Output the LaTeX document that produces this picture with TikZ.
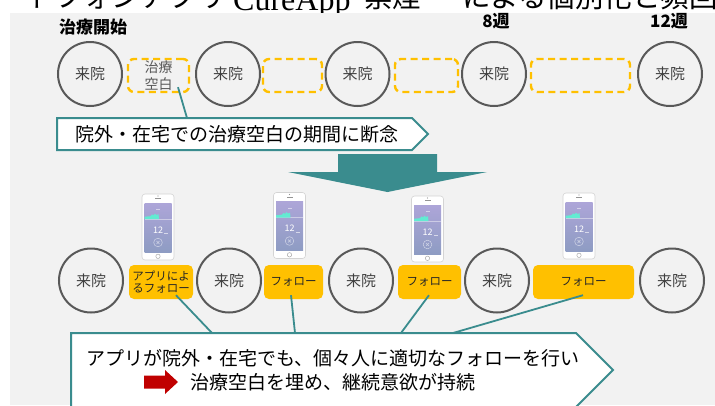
\documentclass[tikz,border=0pt]{standalone}
\usepackage{fontspec}
\setmainfont{Noto Sans CJK JP}
\newfontfamily\titleserif{Liberation Serif}
\usetikzlibrary{calc}

\definecolor{panel}{HTML}{F2F2F2}
\definecolor{tealc}{HTML}{3A8C8E}
\definecolor{amber}{HTML}{FFC000}
\definecolor{ring}{HTML}{595959}
\definecolor{labelgray}{HTML}{404040}
\definecolor{arrowred}{HTML}{C00000}
\definecolor{phoneedge}{HTML}{D4D4D4}
\definecolor{screentop}{HTML}{ADA5D8}
\definecolor{screenbot}{HTML}{8E9CC3}
\definecolor{wave}{HTML}{62EBD2}

\tikzset{
  handset/.pic={
    % body
    \fill[white, draw=phoneedge, line width=0.6pt, rounded corners=3pt] (-16,-33) rectangle (16,33);
    % speaker and camera
    \fill[phoneedge!70!black] (-3,-28.8) rectangle (3,-28);
    \fill[phoneedge!70!black] (0,-31) circle (0.6);
    % screen
    \shade[top color=screentop, bottom color=screenbot] (-13.5,-24) rectangle (13.5,25);
    \draw[white, opacity=0.45, line width=0.4pt] (-13.5,-8) -- (13.5,-8);
    \fill[wave] (-13.5,-8) -- (-13.5,-10.2) -- (-10,-10.6) -- (-7.5,-10.8) -- (-6,-12.6)
      -- (-4.5,-11.6) -- (-3,-13.4) -- (-1.5,-12) -- (0.5,-12.8) -- (1,-8) -- cycle;
    \node[white, font=\fontsize{9}{9}\selectfont, inner sep=0pt] at (0,3) {12};
    \fill[white, opacity=0.6] (6,6.2) rectangle (10,7);
    \fill[white, opacity=0.5] (-2,-18) rectangle (2,-17.4);
    \draw[white, opacity=0.55, line width=0.5pt] (0,15.5) circle (4.3);
    \draw[white, opacity=0.55, line width=0.4pt] (-1.6,13.9) -- (1.6,17.1) (-1.6,17.1) -- (1.6,13.9);
    % home button
    \draw[phoneedge!80!black, line width=0.5pt] (0,29.3) circle (2.2);
  }
}

\begin{document}
\begin{tikzpicture}[x=1pt, y=-1pt,
  visit/.style={circle, draw=ring, line width=2pt, minimum size=64pt, inner sep=0pt,
    text=labelgray, font=\fontsize{15}{15}\selectfont},
  gapbox/.style={draw=amber, line width=2.4pt, dash pattern=on 7pt off 4.5pt,
    rounded corners=6pt, minimum height=33pt, inner sep=0pt, text=ring,
    font=\fontsize{14}{17}\selectfont, align=center},
  followbox/.style={fill=amber, rounded corners=5pt, minimum height=34pt, inner sep=0pt,
    text=black!85, font=\fontsize{11.5}{12.5}\selectfont, align=center},
  link/.style={draw=tealc, line width=1.8pt},
  callout/.style={draw=tealc, line width=2pt, fill=white, line join=miter},
  weekmark/.style={font=\bfseries\fontsize{17}{17}\selectfont, inner sep=0pt},
  calltext/.style={font=\fontsize{19}{19}\selectfont, inner sep=0pt},
  headline/.style={font=\fontsize{28.5}{28.5}\selectfont, inner sep=0pt}
]
\useasboundingbox (0,0) rectangle (715,405);
\clip (0,0) rectangle (715,405);

% heading line, mostly hidden behind the panel
\node[headline, anchor=base east] (h1) at (226,7.6) {スマートフォンアプリ};
\node[headline, font=\titleserif\fontsize{32}{32}\selectfont, anchor=base west] (h2) at (233,10.5) {CureApp};
\node[headline, anchor=base west] (h3) at (364,7.6) {禁煙};
\node[headline, anchor=base west] (h4) at (462,7.6) {による個別化と頻回};

% panel
\fill[panel] (10,12.5) rectangle (715,405);

% time marks
\node[weekmark] (m0) at (93,27) {治療開始};
\node[weekmark] (m8) at (496,21) {8週};
\node[weekmark] (m12) at (669,21) {12週};

% upper row: visits with gaps in between
\node[visit] (a1) at (90,74) {来院};
\node[visit] (a2) at (228,74) {来院};
\node[visit] (a3) at (357.5,74) {来院};
\node[visit] (a4) at (494,74) {来院};
\node[visit] (a5) at (670,74) {来院};
\node[gapbox, minimum width=61pt] (g1) at (158.5,75.5) {治療\\空白};
\node[gapbox, minimum width=59pt] (g2) at (292.5,75.5) {};
\node[gapbox, minimum width=63pt] (g3) at (426.5,75.5) {};
\node[gapbox, minimum width=99pt] (g4) at (580.5,75.5) {};

% first callout
\coordinate (n1) at (187,118);
\draw[link] ($(g1.south)+(19.5,-6)$) -- (n1);
\draw[callout] (57,118) -- (412,118) -- (428,134) -- (412,150) -- (57,150) -- cycle;
\node[calltext] (t1) at (236.5,134) {院外・在宅での治療空白の期間に断念};

% transition arrow
\fill[tealc] (338,154) -- (437,154) -- (437,172) -- (487,172) -- (387.5,192)
  -- (288,172) -- (338,172) -- cycle;

% lower row: visits with app follow-up in between
\node[visit] (b1) at (91,280.5) {来院};
\node[visit] (b2) at (229,280.5) {来院};
\node[visit] (b3) at (361,280.5) {来院};
\node[visit] (b4) at (497,280.5) {来院};
\node[visit] (b5) at (672,280.5) {来院};
\node[followbox, minimum width=64pt] (f1) at (161,282) {アプリによ\\るフォロー};
\node[followbox, minimum width=59pt] (f2) at (293.5,282) {フォロー};
\node[followbox, minimum width=63pt] (f3) at (429.5,282) {フォロー};
\node[followbox, minimum width=101pt] (f4) at (583.5,282) {フォロー};

\pic at (158,227) {handset};
\pic at (289.5,225.5) {handset};
\pic at (427.5,229) {handset};
\pic at (579,226) {handset};

% second callout
\coordinate (n2) at (212,333);
\coordinate (n3) at (295,333);
\coordinate (n4) at (401,333);
\coordinate (n5) at (453,333);
\draw[link] ($(f1.south)+(15,-4)$) -- (n2);
\draw[link] ($(f2.south)+(-2.5,-4)$) -- (n3);
\draw[link] ($(f3.south)+(-0.5,-4)$) -- (n4);
\draw[link] ($(f4.south)+(-0.5,-4)$) -- (n5);
\draw[callout] (71,333) -- (576,333) -- (613,370) -- (576,407) -- (71,407) -- cycle;
\node[calltext] (t2) at (333,358) {アプリが院外・在宅でも、個々人に適切なフォローを行い};
\fill[arrowred] (144,375.5) -- (165,375.5) -- (165,370) -- (178,382) -- (165,394)
  -- (165,388.5) -- (144,388.5) -- cycle;
\node[calltext, anchor=west] (t3) at (190,382) {治療空白を埋め、継続意欲が持続};
\end{tikzpicture}
\end{document}
